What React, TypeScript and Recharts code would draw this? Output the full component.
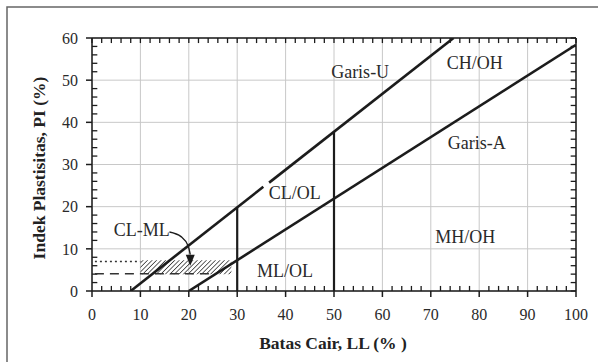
import React from 'react';
import {
  ComposedChart,
  Line,
  XAxis,
  YAxis,
  CartesianGrid,
  ReferenceLine,
  ReferenceArea,
  ReferenceDot,
  Customized,
} from 'recharts';

// ---- data ----
const xTicks = [0, 10, 20, 30, 40, 50, 60, 70, 80, 90, 100];
const yTicks = [0, 10, 20, 30, 40, 50, 60];
const minorXTicks = [2, 4, 6, 8, 12, 14, 16, 18, 22, 24, 26, 28, 32, 34, 36, 38, 42, 44, 46, 48, 52, 54, 56, 58, 62, 64, 66, 68, 72, 74, 76, 78, 82, 84, 86, 88, 92, 94, 96, 98];
const minorYTicks = [2, 4, 6, 8, 12, 14, 16, 18, 22, 24, 26, 28, 32, 34, 36, 38, 42, 44, 46, 48, 52, 54, 56, 58];

const uLineLower = [
  { ll: 8, pi: 0 },
  { ll: 35.4, pi: 24.7 },
];
const uLineUpper = [
  { ll: 36.6, pi: 25.7 },
  { ll: 74.7, pi: 60 },
];
const aLine = [
  { ll: 20, pi: 0 },
  { ll: 100, pi: 58.4 },
];
const divide30 = [
  { ll: 30, pi: 0 },
  { ll: 30, pi: 19.8 },
];
const divide50 = [
  { ll: 50, pi: 0 },
  { ll: 50, pi: 37.8 },
];
const arrowCurve = [
  { ll: 16.0, pi: 14.0 },
  { ll: 18.4, pi: 12.9 },
  { ll: 19.9, pi: 10.6 },
  { ll: 20.3, pi: 8.6 },
];
const arrowTip = { ll: 20.3, pi: 8.6 };

const clmlZone = { ll1: 10, ll2: 28.8, pi1: 4, pi2: 7.3 };
const dottedLine = { ll1: 0.6, ll2: 10, pi: 7 };
const dashedLine = { ll1: 0.6, ll2: 25.5, pi: 4.1 };

const zoneLabels = [
  { text: 'Garis-U', ll: 55.4, pi: 51.9 },
  { text: 'CH/OH', ll: 79.1, pi: 54.1 },
  { text: 'Garis-A', ll: 79.5, pi: 35.1 },
  { text: 'CL/OL', ll: 41.9, pi: 23.2 },
  { text: 'MH/OH', ll: 77.1, pi: 12.8 },
  { text: 'ML/OL', ll: 39.9, pi: 4.7 },
  { text: 'CL-ML', ll: 10.3, pi: 14.5 },
];

const SERIF = '"Liberation Serif", "DejaVu Serif", serif';
const INK = '#1c1c1c';

const Decor = () => (
  <g>
    <defs>
      <pattern id="hatch" patternUnits="userSpaceOnUse" width="3.2" height="3.2" patternTransform="rotate(45)">
        <line x1="0" y1="0" x2="0" y2="3.2" stroke="#222" strokeWidth="1.4" />
      </pattern>
    </defs>
    <path d="M7,362 L7,7 L598,7" fill="none" stroke="#666" strokeWidth={1.5} />
    <text x={333} y={349} textAnchor="middle" fontFamily={SERIF} fontWeight="bold" fontSize={17.5} fill="#222">
      Batas Cair, LL (% )
    </text>
    <text
      x={39}
      y={168}
      textAnchor="middle"
      dominantBaseline="central"
      transform="rotate(-90 39 168)"
      fontFamily={SERIF}
      fontWeight="bold"
      fontSize={17.5}
      fill="#222"
    >
      Indek Plastisitas, PI (%)
    </text>
  </g>
);

export default function App() {
  const tickStyle = { fill: '#2a2a2a', fontFamily: SERIF, fontSize: 16 };
  return (
    <div style={{ position: 'absolute', left: 0, top: 0, width: 598, height: 362, background: '#fff' }}>
      <ComposedChart width={598} height={362} margin={{ top: 38, right: 22, bottom: 41, left: 32 }}>
        <Customized component={Decor} />
        <CartesianGrid stroke="#c8c8c8" strokeWidth={1} />
        <XAxis
          type="number"
          dataKey="ll"
          domain={[0, 100]}
          ticks={xTicks}
          allowDataOverflow
          tickSize={6}
          tickMargin={12}
          height={30}
          tick={tickStyle}
          axisLine={{ stroke: INK, strokeWidth: 1.5 }}
          tickLine={{ stroke: INK, strokeWidth: 1.5 }}
        />
        <YAxis
          type="number"
          dataKey="pi"
          domain={[0, 60]}
          ticks={yTicks}
          allowDataOverflow
          tickSize={6}
          tickMargin={8}
          width={60}
          tick={tickStyle}
          axisLine={{ stroke: INK, strokeWidth: 1.5 }}
          tickLine={{ stroke: INK, strokeWidth: 1.5 }}
        />
        <ReferenceLine y={60} stroke={INK} strokeWidth={1.5} />
        <ReferenceLine x={100} stroke={INK} strokeWidth={1.5} />
        {minorXTicks.map((v) => (
          <ReferenceLine key={'b' + v} segment={[{ x: v, y: 0 }, { x: v, y: 1.2 }]} stroke={INK} strokeWidth={1.3} />
        ))}
        {xTicks.concat(minorXTicks).map((v) => (
          <ReferenceLine key={'t' + v} segment={[{ x: v, y: 60 }, { x: v, y: 58.8 }]} stroke={INK} strokeWidth={1.3} />
        ))}
        {minorYTicks.map((v) => (
          <ReferenceLine key={'l' + v} segment={[{ x: 0, y: v }, { x: 1.1, y: v }]} stroke={INK} strokeWidth={1.3} />
        ))}
        {yTicks.concat(minorYTicks).map((v) => (
          <ReferenceLine key={'r' + v} segment={[{ x: 100, y: v }, { x: 98.9, y: v }]} stroke={INK} strokeWidth={1.3} />
        ))}
        <ReferenceArea
          x1={clmlZone.ll1}
          x2={clmlZone.ll2}
          y1={clmlZone.pi1}
          y2={clmlZone.pi2}
          fill="url(#hatch)"
          fillOpacity={1}
          stroke="none"
        />
        <ReferenceLine
          segment={[{ x: dottedLine.ll1, y: dottedLine.pi }, { x: dottedLine.ll2, y: dottedLine.pi }]}
          stroke="#333"
          strokeWidth={1.3}
          strokeDasharray="2 3"
        />
        <ReferenceLine
          segment={[{ x: dashedLine.ll1, y: dashedLine.pi }, { x: dashedLine.ll2, y: dashedLine.pi }]}
          stroke="#333"
          strokeWidth={1.5}
          strokeDasharray="9 6"
        />
        <Line data={uLineLower} dataKey="pi" type="linear" stroke={INK} strokeWidth={2.6} dot={false} isAnimationActive={false} />
        <Line data={uLineUpper} dataKey="pi" type="linear" stroke={INK} strokeWidth={2.6} dot={false} isAnimationActive={false} />
        <Line data={aLine} dataKey="pi" type="linear" stroke={INK} strokeWidth={2.6} dot={false} isAnimationActive={false} />
        <Line data={divide30} dataKey="pi" type="linear" stroke={INK} strokeWidth={2.2} dot={false} isAnimationActive={false} />
        <Line data={divide50} dataKey="pi" type="linear" stroke={INK} strokeWidth={2.2} dot={false} isAnimationActive={false} />
        <Line data={arrowCurve} dataKey="pi" type="monotone" stroke={INK} strokeWidth={1.4} dot={false} isAnimationActive={false} />
        <ReferenceDot
          x={arrowTip.ll}
          y={arrowTip.pi}
          r={1}
          shape={(p: any) => (
            <path d={`M${p.cx - 4.5},${p.cy} L${p.cx + 4.5},${p.cy} L${p.cx},${p.cy + 11} Z`} fill={INK} />
          )}
        />
        {zoneLabels.map((l) => (
          <ReferenceDot
            key={l.text}
            x={l.ll}
            y={l.pi}
            r={1}
            shape={(p: any) => (
              <text
                x={p.cx}
                y={p.cy}
                textAnchor="middle"
                dominantBaseline="central"
                fontFamily={SERIF}
                fontSize={18}
                fill="#2a2a2a"
              >
                {l.text}
              </text>
            )}
          />
        ))}
      </ComposedChart>
    </div>
  );
}
